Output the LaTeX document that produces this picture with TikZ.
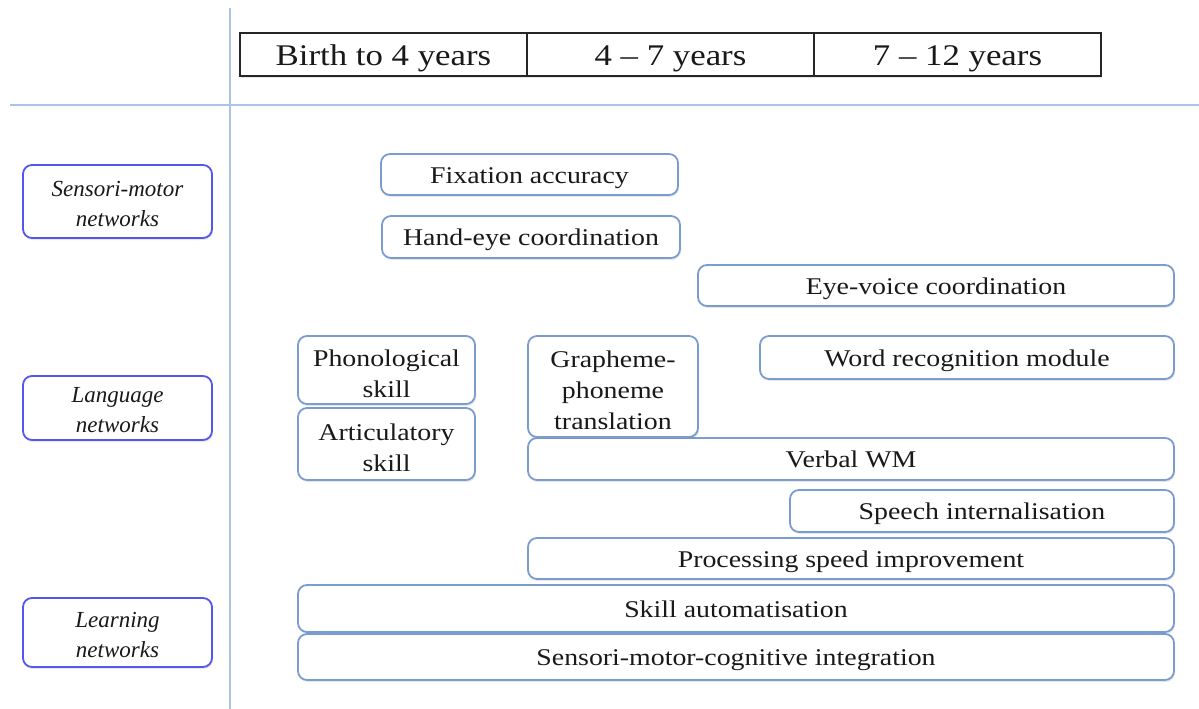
\documentclass[tikz,border=0pt]{standalone}
\usepackage{fontspec}
\setmainfont[FakeStretch=1.16]{Liberation Serif}
\newfontfamily\headfont[FakeStretch=1.16]{Liberation Serif}
\newfontfamily\netfont[ItalicFont={Liberation Serif Italic}]{Liberation Serif}
\usetikzlibrary{shadows}
\definecolor{stepblue}{RGB}{122,156,207}
\definecolor{netblue}{RGB}{85,85,240}
\definecolor{rulecol}{RGB}{170,195,230}
\definecolor{ink}{RGB}{25,25,25}
\tikzset{
  stage/.style={draw=stepblue, line width=1.8pt, rounded corners=9pt, fill=white,
    text=ink, align=center, inner sep=0pt,
    drop shadow={opacity=0.18, shadow xshift=1pt, shadow yshift=-2pt},
    font=\fontsize{24}{31}\selectfont},
  single/.style={stage, text height=21pt, text depth=4pt},
  twoline/.style={stage, text height=54.5pt, text depth=0pt},
  threeline/.style={stage, text height=85.5pt, text depth=0pt},
  network/.style={stage, draw=netblue, font=\fontsize{23}{30}\selectfont\netfont\itshape,
    text height=49.5pt, text depth=0pt},
  agecell/.style={draw=black!85, line width=1.4pt, fill=white, text=ink, inner sep=0pt,
    minimum width=287pt, minimum height=43pt, text height=27pt, text depth=5pt,
    drop shadow={opacity=0.2, shadow xshift=1pt, shadow yshift=-2pt},
    font=\fontsize{30}{34}\selectfont\headfont},
}
\newcommand{\boxat}[6]{\node[#1, minimum width=#4pt, minimum height=#5pt] (#6) at (#2,#3)}
\begin{document}
\begin{tikzpicture}[x=1pt, y=-1pt]
  \useasboundingbox (0,0) rectangle (1199,709);
  % grid lines
  \coordinate (vtop) at (230,8);
  \coordinate (vbot) at (230,709);
  \coordinate (hleft) at (10,105);
  \coordinate (hright) at (1199,105);
  \draw[rulecol, line width=1.5pt] (vtop) -- (vbot);
  \draw[rulecol, line width=1.5pt] (hleft) -- (hright);
  % age bands
  \node[agecell] (birth) at (383.5,54.5) {Birth to 4 years};
  \node[agecell] (mid) at (670.5,54.5) {4 – 7 years};
  \node[agecell] (late) at (957.5,54.5) {7 – 12 years};
  % networks
  \boxat{network}{117.5}{201.5}{189}{73}{sensori} {Sensori-motor\\networks};
  \boxat{network}{117.5}{408}{189}{64}{language} {Language\\networks};
  \boxat{network}{117.5}{632.5}{189}{69}{learning} {Learning\\networks};
  % skills
  \boxat{single}{529.5}{174.5}{297}{41}{fixation} {Fixation accuracy};
  \boxat{single}{531}{237}{298}{42}{handeye} {Hand-eye coordination};
  \boxat{single}{936}{285.5}{476}{41}{eyevoice} {Eye-voice coordination};
  \boxat{twoline}{386.5}{370}{177}{68}{phono} {Phonological\\skill};
  \boxat{twoline}{386.5}{444}{177}{72}{artic} {Articulatory\\skill};
  \boxat{single}{967}{357.5}{414}{43}{wordrec} {Word recognition module};
  \boxat{single}{851}{459}{646}{42}{verbal} {Verbal WM};
  \boxat{threeline}{613}{386.5}{170}{101}{grapheme} {Grapheme-\\phoneme\\translation};
  \boxat{single}{982}{511}{384}{42}{speech} {Speech internalisation};
  \boxat{single}{851}{558.5}{646}{41}{speed} {Processing speed improvement};
  \boxat{single}{736}{608.5}{876}{47}{automat} {Skill automatisation};
  \boxat{single}{736}{657}{876}{46}{integr} {Sensori-motor-cognitive integration};
\end{tikzpicture}
\end{document}
